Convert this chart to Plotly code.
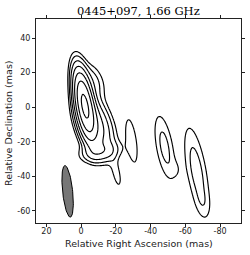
import numpy as np
import plotly.graph_objects as go

# ---- Data: Gaussian model components of the brightness map (x=RA offset mas, y=Dec offset mas)
comp_x = [-2.0, -7.5, -10.5, -7.0, -20.5, -29.0, -48.0, -55.0, -66.5, -70.0]
comp_y = [1.5, -10.0, -26.0, 15.0, -39.0, -19.5, -23.0, -36.0, -37.0, -55.0]
comp_amp = [72.0, 12.0, 5.0, 2.5, 1.3, 1.5, 2.5, 0.6, 2.7, 0.6]
comp_maj = [25.0, 24.0, 15.0, 16.0, 18.0, 32.0, 31.0, 10.0, 42.0, 12.0]
comp_min = [6.5, 12.0, 8.0, 9.0, 5.0, 7.0, 8.0, 6.0, 9.0, 6.0]
comp_pa = [10.0, 20.0, 100.0, 20.0, 12.0, 8.0, 10.0, 10.0, 10.0, 10.0]

# contour levels (multiples of lowest contour, factor 2)
levels = [1, 2, 4, 8, 16, 32, 64]

# restoring beam
beam_x, beam_y = 7.8, -48.7
beam_maj, beam_min, beam_pa = 30.0, 5.8, 6.0

x_ticks = [20, 0, -20, -40, -60, -80]
y_ticks = [40, 20, 0, -20, -40, -60]
x_range = [26, -92]
y_range = [-67, 51]

title_text = '0445+097, 1.66 GHz'
x_title = 'Relative Right Ascension (mas)'
y_title = 'Relative Declination (mas)'

# ---- grid
gx = np.arange(30, -96, -0.5)
gy = np.arange(-70, 55, 0.5)
X, Y = np.meshgrid(gx, gy)
I = np.zeros_like(X)
for cx, cy, a, mj, mn, pa in zip(comp_x, comp_y, comp_amp, comp_maj, comp_min, comp_pa):
    t = np.deg2rad(pa)
    dx, dy = X - cx, Y - cy
    u = dx * np.sin(t) + dy * np.cos(t)
    v = dx * np.cos(t) - dy * np.sin(t)
    su, sv = mj / 2.3548, mn / 2.3548
    I += a * np.exp(-0.5 * ((u / su) ** 2 + (v / sv) ** 2))
Z = np.log2(np.clip(I, 1e-3, None))

fig = go.Figure()
fig.add_trace(go.Contour(
    x=gx, y=gy, z=Z,
    contours=dict(coloring='lines', start=np.log2(levels[0]), end=np.log2(levels[-1]), size=1),
    colorscale=[[0, 'black'], [1, 'black']],
    line=dict(width=1.15, smoothing=1),
    showscale=False, hoverinfo='skip'))

# beam ellipse
th = np.linspace(0, 2 * np.pi, 100)
t = np.deg2rad(beam_pa)
a, b = beam_maj / 2, beam_min / 2
bu, bv = a * np.cos(th), b * np.sin(th)
bx = beam_x + bu * np.sin(t) + bv * np.cos(t)
by = beam_y + bu * np.cos(t) - bv * np.sin(t)
fig.add_trace(go.Scatter(x=bx, y=by, mode='lines', fill='toself',
                         fillcolor='#777777', line=dict(color='black', width=1),
                         showlegend=False, hoverinfo='skip'))

axis_common = dict(showline=True, linecolor='#222', linewidth=1, mirror='ticks',
                   ticks='outside', ticklen=3, tickwidth=1, tickcolor='#222',
                   showgrid=False, zeroline=False, automargin=False,
                   tickfont=dict(family='DejaVu Sans', size=8, color='#222'))
fig.update_layout(
    width=250, height=255,
    margin=dict(l=36, r=9, t=19, b=32),
    paper_bgcolor='white', plot_bgcolor='white',
    showlegend=False,
    xaxis=dict(range=x_range, tickvals=x_ticks, ticktext=[str(v) for v in x_ticks],
               ticklabelstandoff=-3, **axis_common),
    yaxis=dict(range=y_range, tickvals=y_ticks, ticktext=[str(v) for v in y_ticks], **axis_common),
    annotations=[
        dict(text=title_text, xref='paper', yref='paper', x=0.502, y=1.039,
             xanchor='center', yanchor='middle', showarrow=False,
             font=dict(family='DejaVu Serif', size=11.5, color='black')),
        dict(text=x_title, xref='paper', yref='paper', x=0.502, y=-0.1,
             xanchor='center', yanchor='middle', showarrow=False,
             font=dict(family='DejaVu Sans', size=9.5, color='#222')),
        dict(text=y_title, xref='paper', yref='paper', x=-0.137, y=0.49,
             xanchor='center', yanchor='middle', showarrow=False, textangle=-90,
             font=dict(family='DejaVu Sans', size=9.5, color='#222')),
    ],
)
fig.write_html('out.html', config={'displayModeBar': False},
               post_script="document.body.style.margin='0';document.body.style.overflow='hidden';")
